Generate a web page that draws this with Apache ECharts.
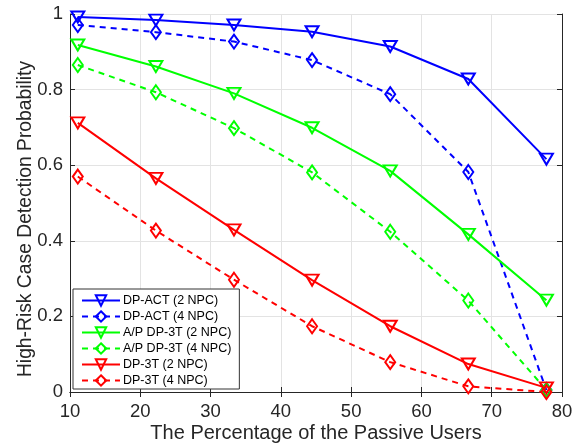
<!DOCTYPE html>
<html><head><meta charset="utf-8">
<script src="https://cdn.jsdelivr.net/npm/echarts@6/dist/echarts.min.js"></script>
<style>html,body{margin:0;padding:0;background:#fff}#c{width:578px;height:448px}</style>
</head><body><div id="c"></div>
<script>
const xValues = [11.11, 22.22, 33.33, 44.44, 55.56, 66.67, 77.78];
const dpAct2 = [0.992, 0.984, 0.971, 0.953, 0.914, 0.828, 0.616];
const dpAct4 = [0.971, 0.952, 0.927, 0.878, 0.788, 0.582, 0.005];
const ap2 = [0.918, 0.861, 0.790, 0.699, 0.585, 0.417, 0.243];
const ap4 = [0.865, 0.793, 0.698, 0.581, 0.424, 0.242, 0.005];
const dp3t2 = [0.712, 0.565, 0.429, 0.296, 0.174, 0.074, 0.011];
const dp3t4 = [0.570, 0.427, 0.297, 0.174, 0.079, 0.015, 0.0];
const names = ['DP-ACT (2 NPC)','DP-ACT (4 NPC)','A/P DP-3T (2 NPC)','A/P DP-3T (4 NPC)','DP-3T (2 NPC)','DP-3T (4 NPC)'];
const xTicks = [10, 20, 30, 40, 50, 60, 70, 80];
const yTicks = [0, 0.2, 0.4, 0.6, 0.8, 1];

const colors = ['#0000ff','#0000ff','#00ff00','#00ff00','#ff0000','#ff0000'];
const datasets = [dpAct2, dpAct4, ap2, ap4, dp3t2, dp3t4];
const font = 'Liberation Sans, Arial, sans-serif';

const series = datasets.map((d, i) => {
  const tri = i % 2 === 0;
  return {
    name: names[i], type: 'line',
    data: d.map((v, k) => [xValues[k], v]),
    symbol: tri ? 'triangle' : 'diamond',
    symbolSize: tri ? [13, 11] : [10, 14],
    symbolRotate: tri ? 180 : 0,
    showAllSymbol: true,
    lineStyle: { color: colors[i], width: 2, type: tri ? 'solid' : [6, 5] },
    itemStyle: { color: 'rgba(255,255,255,0)', borderColor: colors[i], borderWidth: 2 },
    emphasis: { disabled: true },
    animation: false, z: 3
  };
});

const axisCol = '#262626';
const chart = echarts.init(document.getElementById('c'));
chart.setOption({
  backgroundColor: '#fff',
  animation: false,
  grid: { left: 70, right: 16, top: 14, bottom: 56, containLabel: false, outerBoundsMode: 'none' },
  legend: {
    orient: 'vertical', left: 73, top: 289,
    data: names,
    backgroundColor: '#fff', borderColor: '#333', borderWidth: 1,
    padding: [5, 8, 2, 8], itemGap: 3, itemWidth: 38, itemHeight: 13,
    textStyle: { fontFamily: font, fontSize: 12.5, color: '#000', padding: [0,0,0,-2] },
    symbolRotate: 'inherit'
  },
  xAxis: [{
    type: 'value', min: xTicks[0], max: xTicks[xTicks.length-1], interval: 10,
    name: 'The Percentage of the Passive Users', nameLocation: 'middle', nameGap: 31,
    nameMoveOverlap: false,
    nameTextStyle: { fontFamily: font, fontSize: 20, color: axisCol },
    axisLine: { show: true, lineStyle: { color: axisCol, width: 1 } },
    axisTick: { show: true, inside: true, length: 5, lineStyle: { color: axisCol } },
    axisLabel: { fontFamily: font, fontSize: 18.5, color: axisCol, margin: 10 },
    splitLine: { show: true, lineStyle: { color: '#e3e3e3', width: 1 } }
  }, {
    type: 'value', position: 'top', min: xTicks[0], max: xTicks[xTicks.length-1], interval: 10,
    axisLine: { show: true, lineStyle: { color: axisCol, width: 1 } },
    axisTick: { show: true, inside: true, length: 5, lineStyle: { color: axisCol } },
    axisLabel: { show: false }, splitLine: { show: false }
  }],
  yAxis: [{
    type: 'value', min: yTicks[0], max: yTicks[yTicks.length-1], interval: 0.2,
    name: 'High-Risk Case Detection Probability', nameLocation: 'middle', nameGap: 35,
    nameMoveOverlap: false,
    nameTextStyle: { fontFamily: font, fontSize: 19.3, color: axisCol, padding: [0, 32, 0, 0] },
    axisLine: { show: true, lineStyle: { color: axisCol, width: 1 } },
    axisTick: { show: true, inside: true, length: 5, lineStyle: { color: axisCol } },
    axisLabel: { fontFamily: font, fontSize: 18.5, color: axisCol, margin: 7 },
    splitLine: { show: true, lineStyle: { color: '#e3e3e3', width: 1 } }
  }, {
    type: 'value', position: 'right', min: yTicks[0], max: yTicks[yTicks.length-1], interval: 0.2,
    axisLine: { show: true, lineStyle: { color: axisCol, width: 1 } },
    axisTick: { show: true, inside: true, length: 5, lineStyle: { color: axisCol } },
    axisLabel: { show: false }, splitLine: { show: false }
  }],
  series: series
});
</script></body></html>
